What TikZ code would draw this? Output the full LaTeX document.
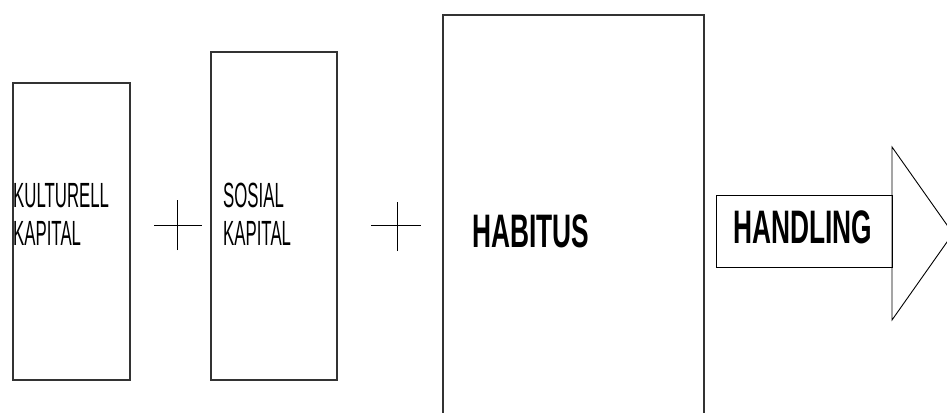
\documentclass[tikz,border=0pt]{standalone}
\usepackage{fontspec}
\newfontfamily\thinfont[FakeStretch=0.48]{Liberation Sans}
\newfontfamily\boldfont[FakeStretch=0.56]{Liberation Sans Bold}
\usetikzlibrary{positioning}

\begin{document}
\begin{tikzpicture}[
  x=1pt, y=-1pt,
  box/.style={draw=black!80, line width=1.6pt, inner sep=0pt},
  thinlabel/.style={anchor=base west, inner sep=0pt, font=\thinfont\fontsize{35}{40}\selectfont},
  biglabel/.style={anchor=base west, inner sep=0pt, font=\boldfont\fontsize{47}{52}\selectfont},
  plus/.style={line width=0.9pt},
  arrowline/.style={line width=0.9pt}
]
\useasboundingbox (0,0) rectangle (947,412);
\clip (0,0) rectangle (947,412);

% the three boxes
\node[box, minimum width=117pt, minimum height=297pt] (kultur) at (71.5,231.5) {};
\node[box, minimum width=126pt, minimum height=328pt] (sosial) at (274,216) {};
\node[box, minimum width=261pt, minimum height=415pt] (habitus) at (573.5,222.5) {};

\node[thinlabel] (kulturA) at (13,207) {KULTURELL};
\node[thinlabel] (kulturB) at (13,245) {KAPITAL};
\node[thinlabel] (sosialA) at (223,207) {SOSIAL};
\node[thinlabel] (sosialB) at (223,245) {KAPITAL};
\node[biglabel] (habitusA) at (472,247) {HABITUS};

% plus signs
\coordinate (plusA) at (177,225);
\coordinate (plusB) at (397,229);
\draw[plus] ([xshift=-23pt]plusA) -- ([xshift=25pt]plusA);
\draw[plus] ([yshift=-25pt]plusA) -- ([yshift=25pt]plusA);
\draw[plus] ([xshift=-26pt,yshift=4pt]plusB) -- ([xshift=24pt,yshift=4pt]plusB);
\draw[plus] ([yshift=-22pt]plusB) -- ([yshift=27pt]plusB);

% handling arrow
\node[draw, arrowline, minimum width=176pt, minimum height=72pt, inner sep=0pt] (handling) at (804,231) {};
\node[biglabel] (handlingA) at (733,243) {HANDLING};
\coordinate (tip) at (953,233.5);
\draw[arrowline] (892,147) -- (892,320) -- (tip) -- cycle;
\end{tikzpicture}
\end{document}
